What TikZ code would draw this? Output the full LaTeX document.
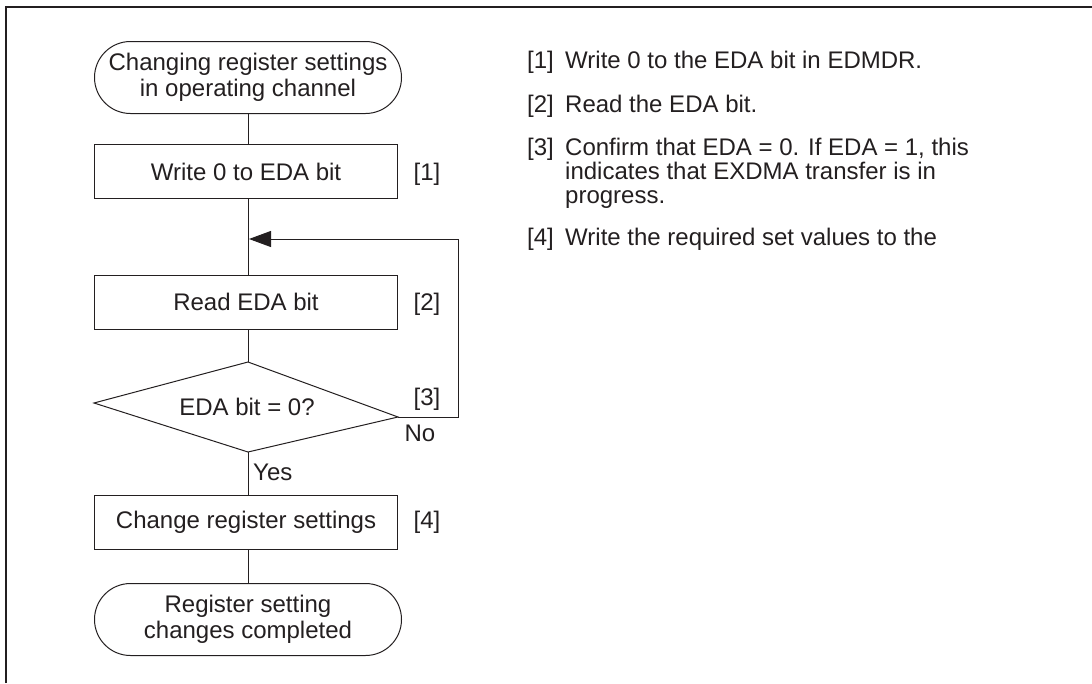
\documentclass[tikz,border=0pt]{standalone}
\usepackage{fontspec}
\setmainfont{Liberation Sans}
\usetikzlibrary{arrows.meta,calc}
\definecolor{ink}{HTML}{231F20}
\begin{document}
\begin{tikzpicture}[x=1pt,y=-1pt,
  every node/.style={text=ink,font=\fontsize{24}{26}\selectfont,inner sep=0pt},
  conn/.style={draw=ink,line width=1pt},
  procbox/.style={draw=ink,line width=1pt,rectangle,minimum width=303pt,minimum height=54pt},
  term/.style={draw=ink,line width=1pt,rectangle,rounded corners=36pt,minimum width=307pt,minimum height=72pt,align=center},
  lbl/.style={anchor=base},
  desc/.style={anchor=base west,align=left,font=\fontsize{24}{24}\selectfont}
]
\useasboundingbox (0,0) rectangle (1092,683);
% frame
\draw[ink,line width=2.5pt] (6,683) -- (6,7) -- (1092,7);

% nodes
\node[term] (start) at (248,77.5) {Changing register settings\\in operating channel};
\node[procbox] (b1) at (246,171.5) {Write 0 to EDA bit};
\node[procbox] (b2) at (246,302) {Read EDA bit};
\coordinate (dt) at (248,362);
\coordinate (dr) at (398,417);
\coordinate (db) at (248,452);
\coordinate (dl) at (94,403);
\draw[conn,line join=miter] (dt) -- (dr) -- (db) -- (dl) -- cycle;
\node[anchor=base] (dtext) at (247,415) {EDA bit = 0?};
\node[procbox] (b4) at (246,522) {Change register settings};
\node[term] (end) at (248,619.5) {Register setting\\changes completed};

% step labels
\node[lbl] (l1) at (b1.base -| 427,0) {[1]};
\node[lbl] (l2) at (b2.base -| 427,0) {[2]};
\node[lbl] (l3) at (427,405) {[3]};
\node[lbl] (l4) at (b4.base -| 427,0) {[4]};
\node[anchor=base] (no) at (420,441) {No};
\node[anchor=base west] (yes) at (253,480) {Yes};

% connectors
\coordinate (j) at (248,239);
\coordinate (fr) at (458,417);
\coordinate (fu) at (458,239);
\draw[conn] (start.south -| 248,0) -- (b1.north -| 248,0);
\draw[conn] (b1.south -| 248,0) -- (b2.north -| 248,0);
\draw[conn] (b2.south -| 248,0) -- (dt);
\draw[conn] (db) -- (b4.north -| 248,0);
\draw[conn] (b4.south -| 248,0) -- (end.north -| 248,0);
\draw[conn,-{Triangle[length=22pt,width=16pt]}] (dr) -- (fr) -- (fu) -- ($(j)+(1,0)$);

% description
\node[desc] (n1) at (527,68) {[1]};
\node[desc] (t1) at (565,68) {Write 0 to the EDA bit in EDMDR.};
\node[desc] (n2) at (527,112) {[2]};
\node[desc] (t2) at (565,112) {Read the EDA bit.};
\node[desc] (n3) at (527,155) {[3]};
\node[desc] (t3) at (565,203) {Confirm that EDA = 0. If EDA = 1, this\\indicates that EXDMA transfer is in\\progress.};
\node[desc] (n4) at (527,245) {[4]};
\node[desc] (t4) at (565,245) {Write the required set values to the};
\end{tikzpicture}
\end{document}
